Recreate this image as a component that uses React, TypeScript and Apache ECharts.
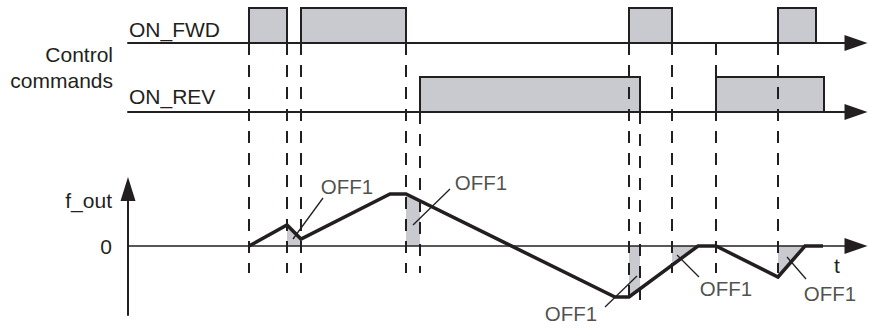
import React, { useEffect, useRef } from "react";
import * as echarts from "echarts";

// ---- Data (time in diagram units, f_out in diagram units) ----
const eventTimes = [121, 159, 173, 278, 292, 501, 512, 544, 588, 650];
const eventSource = ["fwd", "fwd", "fwd", "fwd", "rev", "fwd", "rev", "fwd", "fwd", "fwd"];
const eventLong = [false, false, false, false, false, true, true, false, false, false];

const onFwdPulses = [[121, 159], [173, 278], [501, 544], [650, 688]];
const onRevPulses = [[292, 512], [588, 696]];

const fOutTimes = [121, 159, 173, 262, 278, 487, 501, 570, 588, 650, 677, 695];
const fOutValues = [0, 21, 7, 52, 52, -51, -51, 0, 0, -31, 0, 0];

const off1Intervals = [[159, 173], [278, 292], [501, 512], [544, 570], [650, 677]];
const off1Text = "OFF1";

// annotation placement (label anchor and leader line ends), in axis units
const off1LabelAt = [[219, 60], [353, 64], [443, -67], [598, -42], [702, -47]];
const off1LeaderFrom = [[195, 48], [322, 57], [477, -61], [571, -31], [678, -33]];
const off1LeaderTo = [[165, 7], [285, 21], [509, -30], [549, -9], [659, -11]];

// ---- Layout / style constants ----
const W = 869;
const H = 330;
const X_LEFT = 128;
const X_RIGHT = 13;
const T_MAX = 728;
const FWD_TOP = 8;
const REV_TOP = 77;
const SIG_H = 35;
const F_TOP = 189;
const F_H = 126;
const F_MIN = -69;
const F_MAX = 57;
const DASH_END = 273;
const DASH_END_LONG = 303;
const INK = "#231f20";
const GRAY = "#c9cacf";
const FAMILY = "'Liberation Sans', Arial, sans-serif";
const FONT = "21px " + FAMILY;

function fAt(t: number): number {
  for (let i = 0; i < fOutTimes.length - 1; i++) {
    const a = fOutTimes[i];
    const b = fOutTimes[i + 1];
    if (t >= a && t <= b) {
      const r = b === a ? 0 : (t - a) / (b - a);
      return fOutValues[i] + r * (fOutValues[i + 1] - fOutValues[i]);
    }
  }
  return 0;
}

function hiddenAxis(gridIndex: number, extra: any = {}) {
  return {
    gridIndex,
    type: "value",
    show: false,
    axisLine: { show: false },
    axisTick: { show: false },
    axisLabel: { show: false },
    splitLine: { show: false },
    ...extra,
  };
}

function arrowXAxis(gridIndex: number, width: number) {
  return {
    gridIndex,
    type: "value",
    min: 0,
    max: T_MAX,
    axisLine: {
      show: true,
      onZero: true,
      symbol: ["none", "triangle"],
      symbolSize: [16, 23],
      lineStyle: { color: INK, width },
    },
    axisTick: { show: false },
    axisLabel: { show: false },
    splitLine: { show: false },
    z: 3,
  };
}

export default function App() {
  const ref = useRef<HTMLDivElement>(null);

  useEffect(() => {
    if (!ref.current) return;
    const chart = echarts.init(ref.current, null, { renderer: "svg" });

    const series: any[] = [];

    const pulseSeries = (pulses: number[][], idx: number) => {
      pulses.forEach(([a, b]) => {
        series.push({
          type: "line",
          xAxisIndex: idx,
          yAxisIndex: idx,
          data: [[a, 0], [a, 1], [b, 1], [b, 0]],
          symbol: "none",
          lineStyle: { color: INK, width: 2, join: "miter" },
          areaStyle: { color: GRAY, opacity: 1 },
          silent: true,
          clip: false,
          z: 2,
        });
      });
    };
    pulseSeries(onFwdPulses, 0);
    pulseSeries(onRevPulses, 1);

    // OFF1 shading between curve and zero
    off1Intervals.forEach(([a, b]) => {
      const pts: number[][] = [[a, fAt(a)]];
      fOutTimes.forEach((t, i) => {
        if (t > a && t < b) pts.push([t, fOutValues[i]]);
      });
      pts.push([b, fAt(b)]);
      series.push({
        type: "line",
        xAxisIndex: 2,
        yAxisIndex: 2,
        data: pts,
        symbol: "none",
        lineStyle: { width: 0 },
        areaStyle: { color: GRAY, opacity: 1 },
        silent: true,
        clip: false,
        z: 1,
      });
    });

    // dashed event lines (overlay grid, y in page units)
    eventTimes.forEach((t, i) => {
      const y0 = (eventSource[i] === "fwd" ? FWD_TOP : REV_TOP) + SIG_H;
      const y1 = eventLong[i] ? DASH_END_LONG : DASH_END;
      series.push({
        type: "line",
        xAxisIndex: 3,
        yAxisIndex: 3,
        data: [[t, y0], [t, y1]],
        symbol: "none",
        lineStyle: { color: INK, width: 2, type: [12, 10] },
        silent: true,
        clip: false,
        z: 3,
      });
    });

    // f_out curve
    series.push({
      type: "line",
      xAxisIndex: 2,
      yAxisIndex: 2,
      data: fOutTimes.map((t, i) => [t, fOutValues[i]]),
      symbol: "none",
      lineStyle: { color: INK, width: 3.5, join: "miter" },
      silent: true,
      clip: false,
      z: 5,
    });

    // OFF1 leader lines
    off1LeaderFrom.forEach((p, i) => {
      series.push({
        type: "line",
        xAxisIndex: 2,
        yAxisIndex: 2,
        data: [p, off1LeaderTo[i]],
        symbol: "none",
        lineStyle: { color: INK, width: 1.3 },
        silent: true,
        clip: false,
        z: 5,
      });
    });

    // OFF1 labels
    series.push({
      type: "scatter",
      xAxisIndex: 2,
      yAxisIndex: 2,
      data: off1LabelAt,
      symbolSize: 1,
      itemStyle: { color: "rgba(0,0,0,0)" },
      label: {
        show: true,
        position: "inside",
        formatter: off1Text,
        color: INK,
        fontSize: 20.5,
        fontFamily: FAMILY,
        align: "center",
        verticalAlign: "middle",
      },
      silent: true,
      clip: false,
      z: 6,
    });

    const txt = (text: string, x: number, y: number, align: string) => ({
      type: "text",
      x,
      y,
      z: 10,
      silent: true,
      style: {
        text,
        font: FONT,
        fill: INK,
        textAlign: align,
        textVerticalAlign: "middle",
        align,
        verticalAlign: "middle",
      },
    });

    chart.setOption({
      animation: false,
      backgroundColor: "#ffffff",
      grid: [
        { left: X_LEFT, right: X_RIGHT, top: FWD_TOP, height: SIG_H },
        { left: X_LEFT, right: X_RIGHT, top: REV_TOP, height: SIG_H },
        { left: X_LEFT, right: X_RIGHT, top: F_TOP, height: F_H },
        { left: X_LEFT, right: X_RIGHT, top: 0, height: H },
      ],
      xAxis: [
        arrowXAxis(0, 2),
        arrowXAxis(1, 2),
        arrowXAxis(2, 1.5),
        hiddenAxis(3, { min: 0, max: T_MAX }),
      ],
      yAxis: [
        hiddenAxis(0, { min: 0, max: 1 }),
        hiddenAxis(1, { min: 0, max: 1 }),
        {
          gridIndex: 2,
          type: "value",
          min: F_MIN,
          max: F_MAX,
          axisLine: {
            show: true,
            onZero: true,
            symbol: ["none", "triangle"],
            symbolSize: [15, 24],
            lineStyle: { color: INK, width: 2 },
          },
          axisTick: { show: false },
          axisLabel: { show: false },
          splitLine: { show: false },
          z: 3,
        },
        hiddenAxis(3, { min: 0, max: H, inverse: true }),
      ],
      series,
      graphic: [
        txt("ON_FWD", 129, 29, "left"),
        txt("ON_REV", 129, 96, "left"),
        txt("Control", 113, 54, "right"),
        txt("commands", 113, 80, "right"),
        txt("f_out", 112, 200, "right"),
        txt("0", 112, 246, "right"),
        txt("t", 837, 265, "center"),
      ],
    });

    return () => chart.dispose();
  }, []);

  return (
    <div
      ref={ref}
      style={{ position: "absolute", left: 0, top: 0, width: W, height: H, background: "#fff" }}
    />
  );
}
